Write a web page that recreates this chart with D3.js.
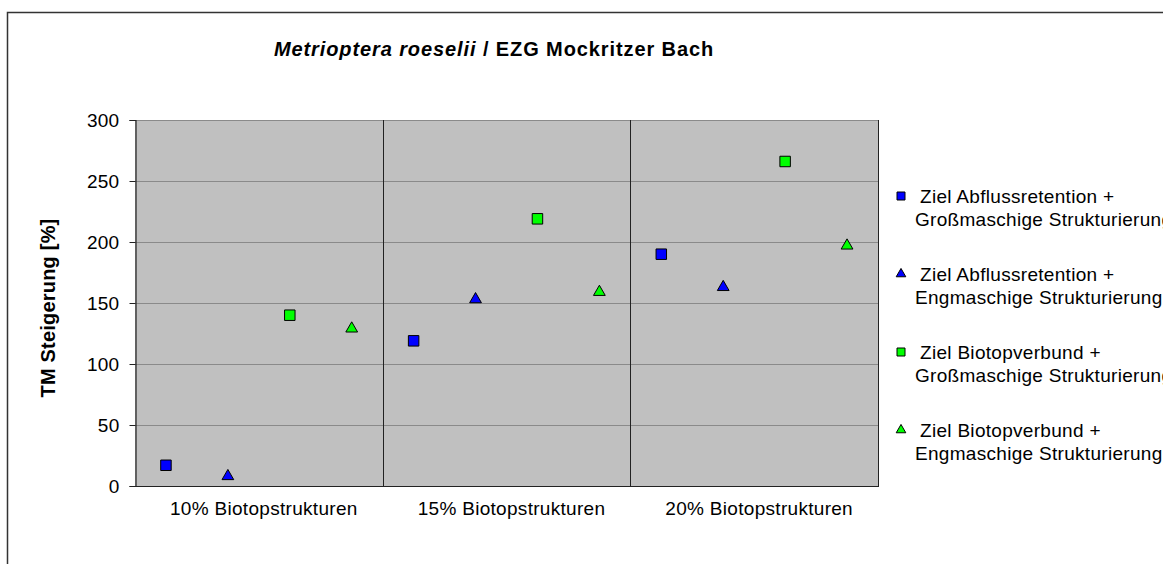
<!DOCTYPE html>
<html>
<head>
<meta charset="utf-8">
<script src="https://cdn.jsdelivr.net/npm/d3@7"></script>
<style>
  body { margin: 0; background: #fff; }
  svg text { font-family: "Liberation Sans", Arial, Helvetica, sans-serif; }
</style>
</head>
<body>
<div id="chart"></div>
<script>
// categories and series
var categories = ['10% Biotopstrukturen', '15% Biotopstrukturen', '20% Biotopstrukturen'];
var seriesNames = [
  ['Ziel Abflussretention +', 'Großmaschige Strukturierung'],
  ['Ziel Abflussretention +', 'Engmaschige Strukturierung'],
  ['Ziel Biotopverbund +', 'Großmaschige Strukturierung'],
  ['Ziel Biotopverbund +', 'Engmaschige Strukturierung']
];
var seriesColors = ['#0000ff', '#0000ff', '#00ff00', '#00ff00'];
var seriesShapes = ['square', 'triangle', 'square', 'triangle'];
var values = [
  [17, 119, 190],   // Abflussretention + Großmaschig
  [8, 153, 163],    // Abflussretention + Engmaschig
  [140, 219, 266],  // Biotopverbund + Großmaschig
  [129, 159, 197]   // Biotopverbund + Engmaschig
];
var yTicks = [0, 50, 100, 150, 200, 250, 300];

var W = 1163, H = 564;
var plot = { left: 135, top: 120, right: 878, bottom: 486 };

var svg = d3.select('#chart').append('svg').attr('width', W).attr('height', H);

// outer frame (runs off the right and bottom edge)
svg.append('rect').attr('x', 7.5).attr('y', 12.5).attr('width', 1300).attr('height', 700)
  .attr('fill', '#fff').attr('stroke', '#333').attr('stroke-width', 1.5);

var x = d3.scaleBand().domain(categories).range([plot.left, plot.right]);
var xs = d3.scaleBand().domain(d3.range(4)).range([0, x.bandwidth()]);
var y = d3.scaleLinear().domain([0, 300]).range([plot.bottom, plot.top]);

svg.append('rect').attr('x', plot.left).attr('y', plot.top)
  .attr('width', plot.right - plot.left).attr('height', plot.bottom - plot.top)
  .attr('fill', '#c0c0c0');

// horizontal gridlines
svg.append('g').selectAll('line').data(yTicks.slice(1)).join('line')
  .attr('x1', plot.left).attr('x2', plot.right)
  .attr('y1', function(d) { return Math.round(y(d)) + 0.5; })
  .attr('y2', function(d) { return Math.round(y(d)) + 0.5; })
  .attr('stroke', '#8a8a8a').attr('stroke-width', 1);

// category dividers
svg.append('g').selectAll('line').data(categories.slice(1)).join('line')
  .attr('x1', function(d) { return Math.round(x(d)) + 0.5; })
  .attr('x2', function(d) { return Math.round(x(d)) + 0.5; })
  .attr('y1', plot.top).attr('y2', plot.bottom)
  .attr('stroke', '#222').attr('stroke-width', 1);

// plot border
svg.append('line').attr('x1', plot.right + 0.5).attr('x2', plot.right + 0.5)
  .attr('y1', plot.top).attr('y2', plot.bottom).attr('stroke', '#222');

// y axis
var yAxis = svg.append('g').attr('transform', 'translate(' + (plot.left + 0.5) + ',0)')
  .call(d3.axisLeft(y).tickValues(yTicks).tickSize(6).tickPadding(10));
yAxis.select('.domain').attr('stroke', '#222').attr('stroke-width', 1.2);
yAxis.selectAll('.tick line').attr('stroke', '#222');
yAxis.selectAll('.tick text').attr('font-size', 19).attr('fill', '#000')
  .attr('letter-spacing', 0.3)
  .attr('font-family', '"Liberation Sans", Arial, sans-serif');

// x axis line and labels
svg.append('line').attr('x1', plot.left).attr('x2', plot.right + 1)
  .attr('y1', plot.bottom + 0.5).attr('y2', plot.bottom + 0.5)
  .attr('stroke', '#222').attr('stroke-width', 1.2);
svg.append('g').selectAll('text').data(categories).join('text')
  .attr('x', function(d) { return x(d) + x.bandwidth() / 2 + 5; })
  .attr('y', 515)
  .attr('text-anchor', 'middle').attr('font-size', 19).attr('letter-spacing', 0.3)
  .attr('fill', '#000')
  .text(function(d) { return d; });

// markers
var sym = { square: d3.symbolSquare, triangle: d3.symbolTriangle };
var points = [];
values.forEach(function(vals, s) {
  vals.forEach(function(v, c) { points.push({ s: s, c: c, v: v }); });
});
svg.append('g').selectAll('path').data(points).join('path')
  .attr('transform', function(d) {
    return 'translate(' + (x(categories[d.c]) + xs(d.s) + xs.bandwidth() / 2) + ',' + y(d.v) + ')';
  })
  .attr('d', function(d) {
    return d3.symbol().type(sym[seriesShapes[d.s]]).size(seriesShapes[d.s] == 'square' ? 110 : 60)();
  })
  .attr('fill', function(d) { return seriesColors[d.s]; })
  .attr('stroke', '#000').attr('stroke-width', 1);

// title
var title = svg.append('text').attr('x', 494).attr('y', 56)
  .attr('text-anchor', 'middle').attr('font-size', 20).attr('font-weight', 'bold')
  .attr('letter-spacing', 0.9);
title.append('tspan').attr('font-style', 'italic').text('Metrioptera roeselii');
title.append('tspan').text(' / EZG Mockritzer Bach');

// y axis title
svg.append('text').attr('transform', 'translate(55,308) rotate(-90)')
  .attr('text-anchor', 'middle').attr('font-size', 20).attr('font-weight', 'bold')
  .attr('letter-spacing', 0.2)
  .text('TM Steigerung [%]');

// legend
var legend = svg.append('g').selectAll('g').data(seriesNames).join('g')
  .attr('transform', function(d, i) { return 'translate(901,' + (196 + i * 78) + ')'; });
legend.append('path')
  .attr('d', function(d, i) {
    return d3.symbol().type(sym[seriesShapes[i]]).size(seriesShapes[i] == 'square' ? 64 : 40)();
  })
  .attr('fill', function(d, i) { return seriesColors[i]; })
  .attr('stroke', '#000').attr('stroke-width', 1);
legend.append('text').attr('x', 19).attr('y', 7).attr('font-size', 19).attr('letter-spacing', 0.3)
  .text(function(d) { return d[0]; });
legend.append('text').attr('x', 14).attr('y', 30).attr('font-size', 19).attr('letter-spacing', 0.3)
  .text(function(d) { return d[1]; });
</script>
</body>
</html>
